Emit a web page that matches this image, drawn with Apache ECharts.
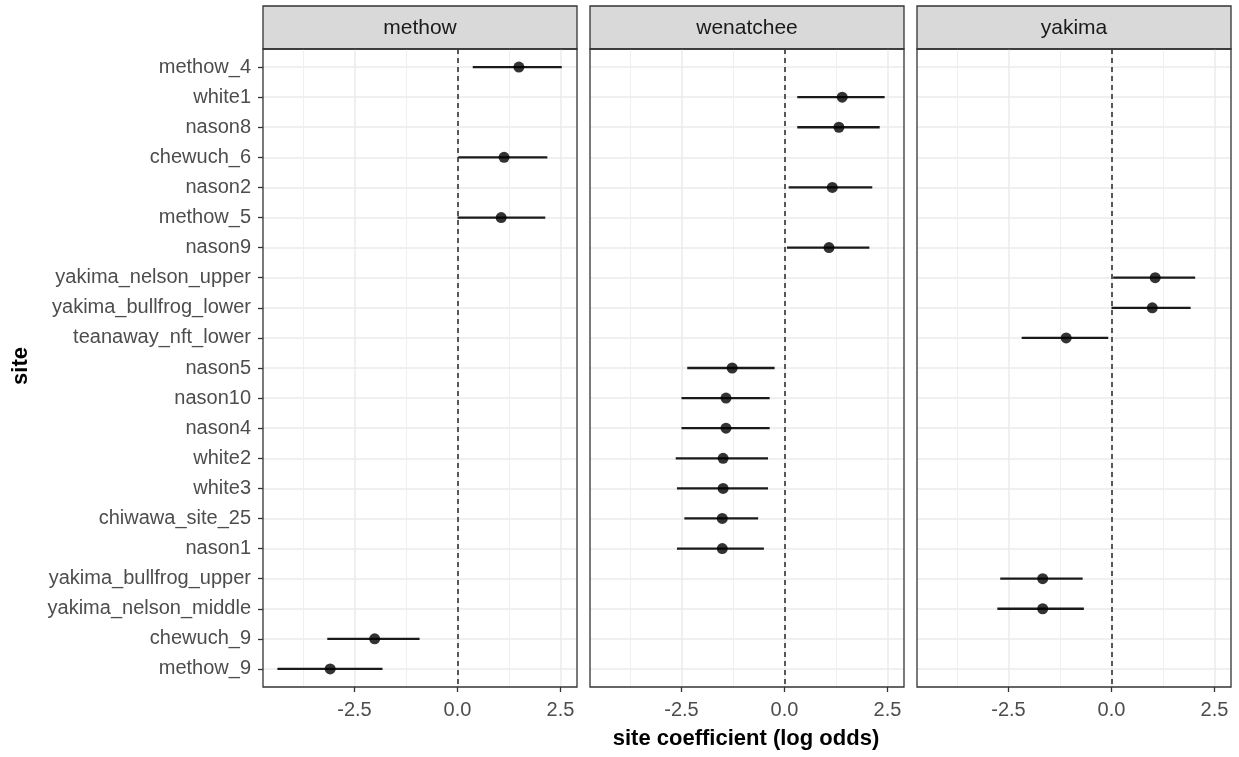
<!DOCTYPE html>
<html><head><meta charset="utf-8">
<script src="https://cdn.jsdelivr.net/npm/echarts@6/dist/echarts.min.js"></script>
<style>html,body{margin:0;padding:0;background:#fff}#c{width:1239px;height:757px}</style>
</head><body><div id="c"></div>
<script>
// ---- data ----
const sites = ['methow_4','white1','nason8','chewuch_6','nason2','methow_5','nason9',
  'yakima_nelson_upper','yakima_bullfrog_lower','teanaway_nft_lower','nason5','nason10',
  'nason4','white2','white3','chiwawa_site_25','nason1','yakima_bullfrog_upper',
  'yakima_nelson_middle','chewuch_9','methow_9'];
const river = ['methow','wenatchee','wenatchee','methow','wenatchee','methow','wenatchee',
  'yakima','yakima','yakima','wenatchee','wenatchee',
  'wenatchee','wenatchee','wenatchee','wenatchee','wenatchee','yakima',
  'yakima','methow','methow'];
const estimate = [1.49,1.40,1.32,1.13,1.16,1.06,1.08,1.06,0.99,-1.10,-1.27,-1.42,-1.42,-1.49,-1.49,-1.51,-1.51,-1.67,-1.67,-2.01,-3.09];
const lower    = [0.37,0.31,0.31,0.02,0.10,0.00,0.06,0.04,0.00,-2.18,-2.36,-2.50,-2.50,-2.64,-2.61,-2.43,-2.61,-2.70,-2.77,-3.16,-4.37];
const upper    = [2.53,2.43,2.31,2.18,2.13,2.13,2.06,2.03,1.92,-0.08,-0.24,-0.36,-0.36,-0.40,-0.40,-0.64,-0.50,-0.70,-0.67,-0.92,-1.82];
const panels = ['methow','wenatchee','yakima'];
const xTicks = [-2.5, 0, 2.5];
const xMin = -4.72, xMax = 2.9;

// ---- layout ----
const FONT = '"Liberation Sans", Arial, sans-serif';
const lefts = [263, 590, 917];
const PW = 314, PT = 49, PH = 638;
const idx = sites.map((s, i) => i);

const grids = [], xAxes = [], yAxes = [], series = [], graphics = [];
panels.forEach((p, k) => {
  grids.push({left: lefts[k], top: PT, width: PW, height: PH, show: true, z: 5,
    backgroundColor: 'transparent', borderColor: '#333333', borderWidth: 1.3});
  xAxes.push({type: 'value', gridIndex: k, min: xMin, max: xMax, position: 'bottom',
    minInterval: 2.5, maxInterval: 2.5, splitNumber: 3,
    axisLine: {show: false, onZero: false},
    axisTick: {show: true, length: 5, customValues: xTicks, lineStyle: {color: '#333333', width: 1.3}},
    axisLabel: {show: true, customValues: xTicks, margin: 13, fontSize: 20, color: '#4D4D4D', fontFamily: FONT,
      formatter: v => xTicks.some(t => Math.abs(t - v) < 1e-9) ? v.toFixed(1) : ''},
    splitLine: {show: true, lineStyle: {color: '#EBEBEB', width: 1.5}},
    minorTick: {show: false, splitNumber: 2},
    minorSplitLine: {show: true, lineStyle: {color: '#EFEFEF', width: 1}}
  });
  yAxes.push({type: 'value', gridIndex: k, min: -0.6, max: sites.length - 0.4, inverse: true, position: 'left',
    minInterval: 1, maxInterval: 1, splitNumber: sites.length,
    axisLine: {show: false, onZero: false},
    axisTick: {show: k === 0, length: 5, customValues: idx, lineStyle: {color: '#333333', width: 1.3}},
    axisLabel: {show: k === 0, customValues: idx, margin: 12, fontSize: 20, color: '#4D4D4D', fontFamily: FONT,
      formatter: v => Number.isInteger(v) && sites[v] !== undefined ? sites[v] : ''},
    splitLine: {show: true, lineStyle: {color: '#EBEBEB', width: 1.5}}
  });
  const rows = [];
  sites.forEach((s, i) => { if (river[i] === p) rows.push(i); });
  series.push({
    type: 'custom', xAxisIndex: k, yAxisIndex: k, clip: true, z: 3,
    data: rows.map(i => [lower[i], upper[i], i]),
    encode: {x: [0, 1], y: 2},
    renderItem: (params, api) => {
      const a = api.coord([api.value(0), api.value(2)]);
      const b = api.coord([api.value(1), api.value(2)]);
      return {type: 'line', shape: {x1: a[0], y1: a[1], x2: b[0], y2: b[1]},
        style: {stroke: '#1A1A1A', lineWidth: 2.3}};
    }
  });
  series.push({
    type: 'scatter', xAxisIndex: k, yAxisIndex: k, z: 4,
    data: rows.map(i => [estimate[i], i]),
    symbol: 'circle', symbolSize: 11, itemStyle: {color: '#000000'},
    markLine: {silent: true, symbol: ['none', 'none'], label: {show: false},
      lineStyle: {color: '#333333', width: 1.6, type: [5, 4]},
      data: [{xAxis: 0}]}
  });
  graphics.push({type: 'rect', shape: {x: lefts[k], y: 6, width: PW, height: PT - 6},
    style: {fill: '#D9D9D9', stroke: '#333333', lineWidth: 1.3}});
  graphics.push({type: 'text', x: lefts[k] + PW / 2, y: 28,
    style: {text: p, align: 'center', verticalAlign: 'middle', fontSize: 21, fontFamily: FONT, fill: '#1A1A1A'}});
});
graphics.push({type: 'text', x: 21, y: 366, rotation: Math.PI / 2,
  style: {text: 'site', align: 'center', verticalAlign: 'middle', fontSize: 22, fontWeight: 'bold', fontFamily: FONT, fill: '#000'}});
graphics.push({type: 'text', x: 746, y: 739,
  style: {text: 'site coefficient (log odds)', align: 'center', verticalAlign: 'middle', fontSize: 22, fontWeight: 'bold', fontFamily: FONT, fill: '#000'}});

const chart = echarts.init(document.getElementById('c'), null, {renderer: 'canvas'});
chart.setOption({
  animation: false,
  backgroundColor: '#ffffff',
  grid: grids, xAxis: xAxes, yAxis: yAxes, series: series, graphic: graphics
});
</script>
</body></html>
